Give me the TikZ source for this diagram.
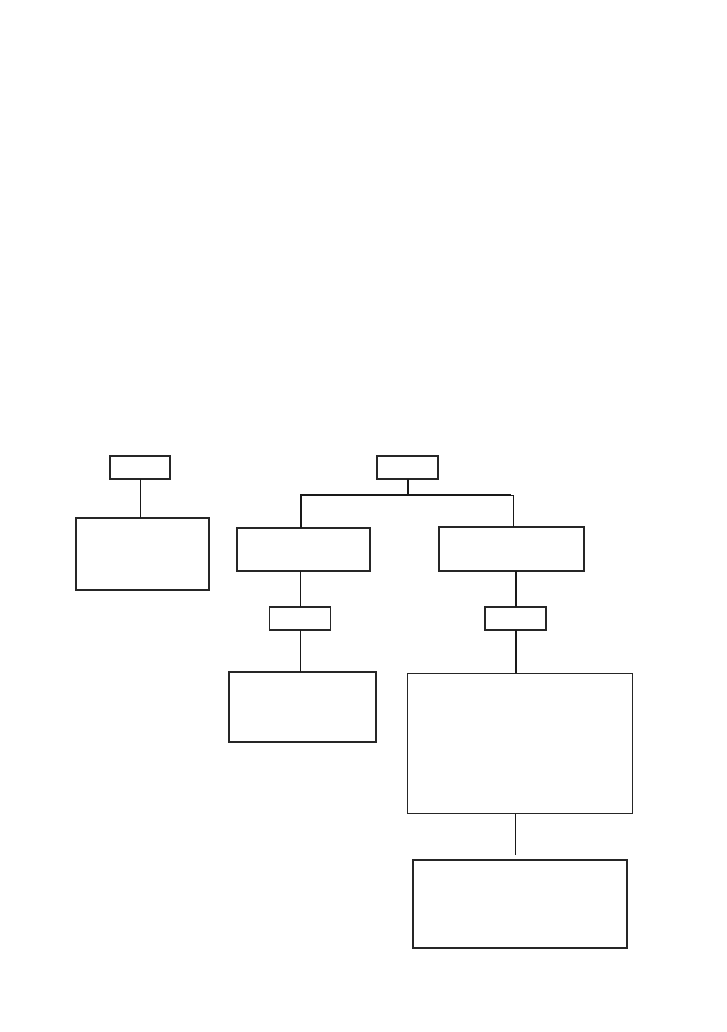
\documentclass[tikz,border=0pt]{standalone}
\usepackage{tikz}

\begin{document}
\begin{tikzpicture}[x=1pt, y=-1pt,
	box/.style={draw=black!85, line width=1.4pt, inner sep=0pt, outer sep=0pt},
	wire/.style={draw=black!90, line width=1pt},
	trunk/.style={draw=black!90, line width=2pt}]
	\useasboundingbox (0,0) rectangle (726,1032);
	\node[box, minimum width=60pt, minimum height=23pt] (topL) at (140,467.5) {};
	\node[box, minimum width=133pt, minimum height=72pt] (boxL) at (142.5,554) {};
	\node[box, minimum width=61pt, minimum height=23pt] (topR) at (407.5,467.5) {};
	\node[box, minimum width=133pt, minimum height=43pt] (midL) at (303.5,549.5) {};
	\node[box, minimum width=145pt, minimum height=44pt] (midR) at (511.5,549) {};
	\node[box, minimum width=61pt, minimum height=23pt] (tagL) at (300,618.5) {};
	\node[box, minimum width=61pt, minimum height=23pt] (tagR) at (515.5,618.5) {};
	\node[box, minimum width=147pt, minimum height=70pt] (lowL) at (302.5,707) {};
	\node[box, minimum width=224.5pt, minimum height=140.5pt] (lowR) at (520,743.5) {};
	\node[box, minimum width=214pt, minimum height=88pt] (last) at (520,904) {};
	\draw[wire] (topL.south) -- (topL.south |- boxL.north);
	\draw[trunk] (topR.south) -- ++(0,16) coordinate (bus);
	\draw[trunk] (bus) -| ([xshift=-2.5pt]midL.north);
	\draw[wire] (bus) -| ([xshift=2pt]midR.north);
	\draw[trunk] (bus) -- ([xshift=-0.5pt]bus -| midR.north);
	\draw[wire] (tagL.north) -- (tagL.north |- midL.south);
	\draw[wire] (tagL.south) -- (tagL.south |- lowL.north);
	\draw[trunk] (tagR.north) -- (tagR.north |- midR.south);
	\draw[trunk] (tagR.south) -- (tagR.south |- lowR.north);
	\coordinate (gap) at ([xshift=-4.5pt]lowR.south |- 0,855);
	\draw[wire] (gap |- lowR.south) -- (gap);
\end{tikzpicture}
\end{document}
